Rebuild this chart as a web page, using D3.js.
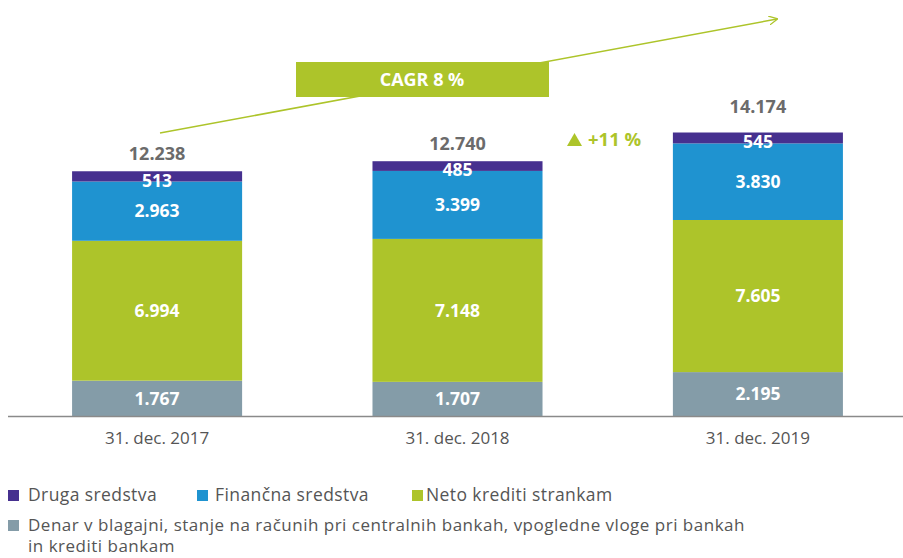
<!DOCTYPE html>
<html>
<head>
<meta charset="utf-8">
<script src="https://cdn.jsdelivr.net/npm/d3@7"></script>
<style>
  body { margin: 0; background: #fff; }
  text { font-family: "Open Sans", sans-serif; }
</style>
</head>
<body>
<div id="chart"></div>
<script>
// --------------------------------------
//  Data
// --------------------------------------
const years = ["31. dec. 2017", "31. dec. 2018", "31. dec. 2019"];
const seriesNames = ["Denar v blagajni", "Neto krediti strankam", "Finančna sredstva", "Druga sredstva"];
const denar = [1767, 1707, 2195];
const krediti = [6994, 7148, 7605];
const financna = [2963, 3399, 3830];
const druga = [513, 485, 545];
const totals = ["12.238", "12.740", "14.174"];
const cagrLabel = "CAGR 8 %";
const growthLabel = "+11 %";

const colors = ["#849ca8", "#adc42a", "#1f93d0", "#46308f"];

const legendRow1 = [
  {name: "Druga sredstva", color: colors[3]},
  {name: "Finančna sredstva", color: colors[2]},
  {name: "Neto krediti strankam", color: colors[1]}
];
const legendRow2 = ["Denar v blagajni, stanje na računih pri centralnih bankah, vpogledne vloge pri bankah", "in krediti bankam"];

// --------------------------------------
//  Canvas
// --------------------------------------
const width = 903;
const height = 558;

const svg = d3.select("#chart")
  .append("svg")
    .attr("width", width)
    .attr("height", height);

// build table for stack
const table = years.map((y, i) => ({
  year: y,
  [seriesNames[0]]: denar[i],
  [seriesNames[1]]: krediti[i],
  [seriesNames[2]]: financna[i],
  [seriesNames[3]]: druga[i]
}));

const stacked = d3.stack().keys(seriesNames)(table);

// --------------------------------------
//  Scales
// --------------------------------------
const x = d3.scaleBand()
  .domain(years)
  .range([12, 903])
  .paddingInner(0.434)
  .paddingOuter(0.2);

const y = d3.scaleLinear()
  .domain([0, 20800])
  .range([416, 0]);

// --------------------------------------
//  CAGR arrow (behind everything)
// --------------------------------------
svg.append("defs").append("marker")
    .attr("id", "arrow")
    .attr("viewBox", "0 0 10 10")
    .attr("refX", 9)
    .attr("refY", 5)
    .attr("markerWidth", 9)
    .attr("markerHeight", 9)
    .attr("markerUnits", "userSpaceOnUse")
    .attr("orient", "auto")
  .append("path")
    .attr("d", "M0,0 L10,5 L0,10")
    .attr("fill", "none")
    .attr("stroke", colors[1])
    .attr("stroke-width", 1.4);

svg.append("line")
    .attr("x1", 160).attr("y1", 133)
    .attr("x2", 777).attr("y2", 19)
    .attr("stroke", colors[1])
    .attr("stroke-width", 1.5)
    .attr("marker-end", "url(#arrow)");

svg.append("rect")
    .attr("x", 296).attr("y", 62)
    .attr("width", 253).attr("height", 35)
    .attr("fill", colors[1]);

svg.append("text")
    .attr("x", 422).attr("y", 80)
    .attr("dy", "0.35em")
    .attr("text-anchor", "middle")
    .attr("fill", "#fff")
    .attr("font-size", 18)
    .attr("font-weight", "bold")
    .text(cagrLabel);

// --------------------------------------
//  Bars
// --------------------------------------
const layer = svg.selectAll("g.layer")
  .data(stacked)
  .join("g")
    .attr("class", "layer")
    .attr("fill", (d, i) => colors[i]);

layer.selectAll("rect")
  .data(d => d)
  .join("rect")
    .attr("x", d => x(d.data.year))
    .attr("width", x.bandwidth())
    .attr("y", d => y(d[1]))
    .attr("height", d => y(d[0]) - y(d[1]));

layer.selectAll("text")
  .data(d => d.map(v => ({v, key: d.key})))
  .join("text")
    .attr("x", d => x(d.v.data.year) + x.bandwidth() / 2)
    .attr("y", d => (y(d.v[0]) + y(d.v[1])) / 2 + (d.key === seriesNames[3] ? 4 : 0))
    .attr("dy", "0.36em")
    .attr("text-anchor", "middle")
    .attr("fill", "#fff")
    .attr("font-size", 17.5)
    .attr("font-weight", "bold")
    .text(d => d3.format(",")(d.v.data[d.key]).replace(/,/g, "."));

// totals
const topLayer = stacked[stacked.length - 1];
const totalGap = [11, 11, 20];
svg.selectAll("text.total")
  .data(topLayer)
  .join("text")
    .attr("class", "total")
    .attr("x", d => x(d.data.year) + x.bandwidth() / 2)
    .attr("y", (d, i) => y(d[1]) - totalGap[i])
    .attr("text-anchor", "middle")
    .attr("fill", "#6b6b6b")
    .attr("font-size", 18)
    .attr("font-weight", "bold")
    .text((d, i) => totals[i]);

// growth label
const growth = svg.append("g").attr("transform", "translate(567,139)");
growth.append("path")
    .attr("d", "M0,7 L7.5,-6 L15,7 Z")
    .attr("fill", colors[1]);
growth.append("text")
    .attr("x", 21)
    .attr("dy", "0.36em")
    .attr("fill", colors[1])
    .attr("font-size", 18.5)
    .attr("font-weight", "bold")
    .text(growthLabel);

// --------------------------------------
//  Axis
// --------------------------------------
const xAxis = svg.append("g")
  .attr("transform", `translate(0, ${y(0)})`)
  .call(d3.axisBottom(x).tickSize(0).tickPadding(16));

xAxis.select(".domain")
  .attr("d", "M8,0.5H903")
  .attr("stroke", "#8a8a8a")
  .attr("stroke-width", 1.5);

xAxis.selectAll(".tick text")
  .attr("font-family", "Open Sans, sans-serif")
  .attr("font-size", 17)
  .attr("fill", "#555");

// --------------------------------------
//  Legend
// --------------------------------------
const legendX = [8, 197, 412];
const legendGap = [20, 18, 14];
const leg1 = svg.selectAll("g.leg1")
  .data(legendRow1)
  .join("g")
    .attr("class", "leg1")
    .attr("transform", (d, i) => `translate(${legendX[i]}, 495)`);

leg1.append("rect")
    .attr("y", -5).attr("width", 11).attr("height", 11)
    .attr("fill", d => d.color);
leg1.append("text")
    .attr("x", (d, i) => legendGap[i])
    .attr("dy", "0.36em")
    .attr("font-size", 17.5)
    .attr("letter-spacing", 0.4)
    .attr("fill", "#555")
    .text(d => d.name);

svg.append("rect")
    .attr("x", 8).attr("y", 520)
    .attr("width", 11).attr("height", 11)
    .attr("fill", colors[0]);

svg.append("text")
    .attr("font-size", 17)
    .attr("letter-spacing", 0.5)
    .attr("fill", "#555")
  .selectAll("tspan")
  .data(legendRow2)
  .join("tspan")
    .attr("x", 28)
    .attr("y", (d, i) => 525 + i * 21)
    .attr("dy", "0.36em")
    .text(d => d);
</script>
</body>
</html>
